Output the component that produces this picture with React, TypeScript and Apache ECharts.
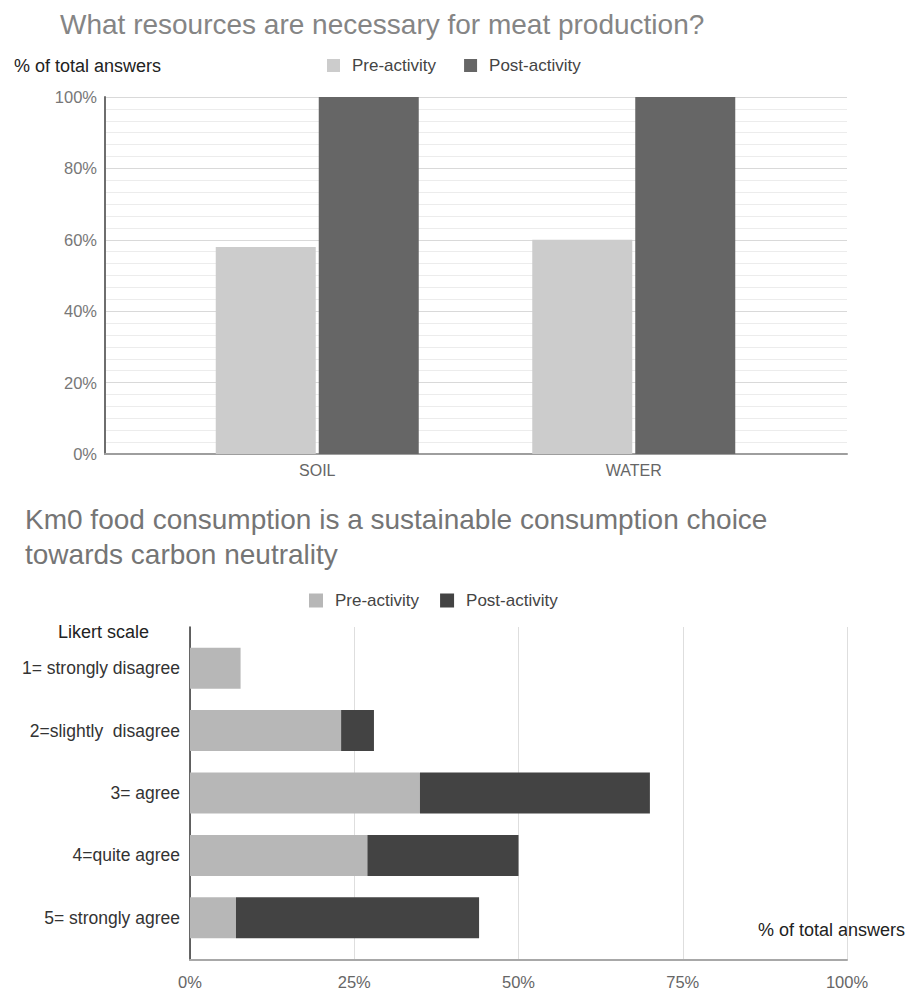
import React, { useEffect, useRef } from "react";
import * as echarts from "echarts";

// Chart 1: resources needed for meat production (% of total answers)
const resourceCategories = ["SOIL", "WATER"];
const resourcePre = [58, 60];
const resourcePost = [100, 100];
const resourceTicks = [0, 20, 40, 60, 80, 100];

// Chart 2: Likert answers on Km0 food consumption (% of total answers)
const likertCategories = [
  "1= strongly disagree",
  "2=slightly  disagree",
  "3= agree",
  "4=quite agree",
  "5= strongly agree",
];
const likertPre = [7.7, 23, 35, 27, 7];
const likertPost = [0, 5, 35, 23, 37];
const likertTicks = [0, 25, 50, 75, 100];

const FONT = "'Liberation Sans', Arial, Helvetica, sans-serif";

export default function App() {
  const ref = useRef<HTMLDivElement>(null);

  useEffect(() => {
    if (!ref.current) return;
    const chart = echarts.init(ref.current, undefined, { renderer: "svg" });

    const option: any = {
      animation: false,
      backgroundColor: "#ffffff",
      textStyle: { fontFamily: FONT },
      title: [
        {
          text: "What resources are necessary for meat production?",
          left: 55,
          top: 2,
          textStyle: { fontFamily: FONT, fontSize: 28, fontWeight: "normal", color: "#858585", lineHeight: 35 },
        },
        {
          text: "Km0 food consumption is a sustainable consumption choice\ntowards carbon neutrality",
          left: 20,
          top: 497,
          textStyle: { fontFamily: FONT, fontSize: 28, fontWeight: "normal", color: "#757575", lineHeight: 35 },
        },
      ],
      legend: [
        {
          left: 322,
          top: 52,
          icon: "rect",
          itemWidth: 13,
          itemHeight: 13,
          itemGap: 28,
          selectedMode: false,
          textStyle: { fontFamily: FONT, fontSize: 17, color: "#444", padding: [0, 0, 0, 7] },
          data: [
            { name: "Pre-activity", itemStyle: { color: "#cccccc" } },
            { name: "Post-activity", itemStyle: { color: "#666666" } },
          ],
        },
        {
          left: 304,
          top: 587,
          icon: "rect",
          itemWidth: 14,
          itemHeight: 14,
          itemGap: 21,
          selectedMode: false,
          textStyle: { fontFamily: FONT, fontSize: 17, color: "#444", padding: [0, 0, 0, 7] },
          data: [
            { name: "Pre-activity", itemStyle: { color: "#b7b7b7" } },
            { name: "Post-activity", itemStyle: { color: "#434343" } },
          ],
        },
      ],
      grid: [
        // top chart frame (gridlines and axis lines)
        { left: 105, top: 97, width: 742, height: 357 },
        // top chart bars
        { left: 159, top: 97, width: 633, height: 357 },
        // bottom chart frame
        { left: 190, top: 627, width: 657, height: 333 },
        // bottom chart bars
        { left: 190, top: 637, width: 657, height: 312 },
      ],
      xAxis: [
        {
          gridIndex: 0,
          type: "category",
          data: [""],
          axisLine: { show: true, lineStyle: { color: "#9e9e9e", width: 2 } },
          axisTick: { show: false },
          axisLabel: { show: false },
        },
        {
          gridIndex: 1,
          type: "category",
          data: resourceCategories,
          axisLine: { show: false },
          axisTick: { show: false },
          axisLabel: { fontFamily: FONT, fontSize: 16, color: "#666", margin: 8 },
        },
        {
          gridIndex: 2,
          type: "value",
          min: likertTicks[0],
          max: likertTicks[likertTicks.length - 1],
          interval: 25,
          axisLine: { show: true, lineStyle: { color: "#a8a8a8", width: 2 } },
          axisTick: { show: false },
          axisLabel: { fontFamily: FONT, fontSize: 16.5, color: "#666", margin: 13, formatter: "{value}%" },
          splitLine: { show: true, lineStyle: { color: "#dedede", width: 1 } },
        },
        {
          gridIndex: 3,
          type: "value",
          min: 0,
          max: 100,
          show: false,
        },
      ],
      yAxis: [
        {
          gridIndex: 0,
          type: "value",
          min: resourceTicks[0],
          max: resourceTicks[resourceTicks.length - 1],
          interval: 20,
          axisLine: { show: true, lineStyle: { color: "#6e6e6e", width: 2 } },
          axisTick: { show: false },
          axisLabel: { fontFamily: FONT, fontSize: 16.5, color: "#777", margin: 8, formatter: "{value}%" },
          splitLine: { show: true, lineStyle: { color: "#d9d9d9", width: 1 } },
          minorTick: { show: false, splitNumber: 6 },
          minorSplitLine: { show: true, lineStyle: { color: "#ececec", width: 1 } },
        },
        {
          gridIndex: 1,
          type: "value",
          min: 0,
          max: 100,
          show: false,
        },
        {
          gridIndex: 2,
          type: "category",
          data: [""],
          axisLine: { show: true, lineStyle: { color: "#333", width: 1.5 } },
          axisTick: { show: false },
          axisLabel: { show: false },
        },
        {
          gridIndex: 3,
          type: "category",
          inverse: true,
          data: likertCategories,
          axisLine: { show: false },
          axisTick: { show: false },
          axisLabel: { fontFamily: FONT, fontSize: 17.5, color: "#333", margin: 10 },
        },
      ],
      graphic: [
        {
          type: "text",
          left: 14,
          top: 57,
          style: { text: "% of total answers", fontFamily: FONT, fontSize: 18, fill: "#222" },
        },
        {
          type: "text",
          left: 58,
          top: 623,
          style: { text: "Likert scale", fontFamily: FONT, fontSize: 18, fill: "#222" },
        },
        {
          type: "text",
          right: 4,
          top: 921,
          style: { text: "% of total answers", fontFamily: FONT, fontSize: 18, fill: "#222" },
        },
      ],
      series: [
        {
          name: "Pre-activity",
          type: "bar",
          xAxisIndex: 1,
          yAxisIndex: 1,
          data: resourcePre,
          barWidth: 100,
          barGap: "3%",
          itemStyle: { color: "#cccccc" },
        },
        {
          name: "Post-activity",
          type: "bar",
          xAxisIndex: 1,
          yAxisIndex: 1,
          data: resourcePost,
          barWidth: 100,
          barGap: "3%",
          itemStyle: { color: "#666666" },
        },
        {
          name: "Pre-activity",
          type: "bar",
          xAxisIndex: 3,
          yAxisIndex: 3,
          stack: "likert",
          data: likertPre,
          barWidth: 41,
          itemStyle: { color: "#b7b7b7" },
        },
        {
          name: "Post-activity",
          type: "bar",
          xAxisIndex: 3,
          yAxisIndex: 3,
          stack: "likert",
          data: likertPost,
          barWidth: 41,
          itemStyle: { color: "#434343" },
        },
      ],
    };

    chart.setOption(option);
    return () => chart.dispose();
  }, []);

  return (
    <div
      ref={ref}
      style={{ position: "absolute", left: 0, top: 0, width: 909, height: 992 }}
    />
  );
}
